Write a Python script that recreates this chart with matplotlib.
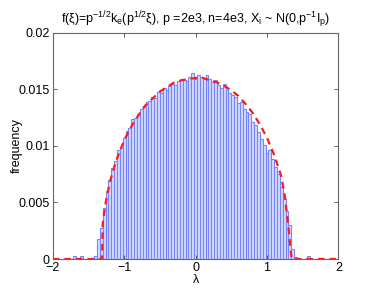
import matplotlib
matplotlib.use("Agg")
import matplotlib.pyplot as plt

plt.rcParams['font.family'] = ['Liberation Sans', 'DejaVu Sans']
plt.rcParams['mathtext.default'] = 'regular'

# histogram bars (bin centers, width 0.04)
bin_centers = [-1.69, -1.60,
               -1.40, -1.36, -1.32, -1.28, -1.24, -1.20, -1.16, -1.12, -1.08, -1.04,
               -1.00, -0.96, -0.92, -0.88, -0.84, -0.80, -0.76, -0.72, -0.68, -0.64,
               -0.60, -0.56, -0.52, -0.48, -0.44, -0.40, -0.36, -0.32, -0.28, -0.24,
               -0.20, -0.16, -0.12, -0.08, -0.04, 0.00, 0.04, 0.08, 0.12, 0.16,
               0.20, 0.24, 0.28, 0.32, 0.36, 0.40, 0.44, 0.48, 0.52, 0.56,
               0.60, 0.64, 0.68, 0.72, 0.76, 0.80, 0.84, 0.88, 0.92, 0.96,
               1.00, 1.04, 1.08, 1.12, 1.16, 1.20, 1.24, 1.28, 1.32, 1.36, 1.40,
               1.58]
frequency = [0.0003, 0.0003,
             0.0003, 0.0018, 0.0027, 0.0045, 0.0060, 0.0070, 0.0080, 0.0087, 0.0096, 0.0098,
             0.0107, 0.0113, 0.0116, 0.0124, 0.0125, 0.0128, 0.0133, 0.0135, 0.0139, 0.0140,
             0.0143, 0.0142, 0.0148, 0.0147, 0.0151, 0.0149, 0.0153, 0.0155, 0.0154, 0.0157,
             0.0158, 0.0158, 0.0157, 0.0161, 0.0164, 0.0159, 0.0163, 0.0161, 0.0160, 0.0163,
             0.0159, 0.0156, 0.0158, 0.0154, 0.0151, 0.0155, 0.0149, 0.0147, 0.0145, 0.0143,
             0.0138, 0.0139, 0.0133, 0.0130, 0.0128, 0.0121, 0.0118, 0.0112, 0.0106, 0.0101,
             0.0094, 0.0096, 0.0088, 0.0081, 0.0075, 0.0064, 0.0053, 0.0042, 0.0030, 0.0009, 0.0002,
             0.0003]
bin_width = 0.04

# theoretical curve (red dashed)
curve_x = [-2.0, -1.31, -1.30, -1.28, -1.25, -1.20, -1.15, -1.10, -1.00, -0.90, -0.80,
           -0.70, -0.60, -0.50, -0.40, -0.30, -0.20, -0.10, 0.00, 0.10, 0.20, 0.30,
           0.40, 0.50, 0.60, 0.70, 0.80, 0.90, 1.00, 1.10, 1.20, 1.25, 1.30, 1.33,
           1.345, 2.0]
curve_y = [0.0, 0.0, 0.0031, 0.0041, 0.0053, 0.0068, 0.0079, 0.0089, 0.0105, 0.0117, 0.0127,
           0.0136, 0.0142, 0.0148, 0.0152, 0.0156, 0.0158, 0.0159, 0.0160, 0.0160, 0.0158, 0.0156,
           0.0153, 0.0149, 0.0144, 0.0137, 0.0129, 0.0119, 0.0107, 0.0092, 0.0073, 0.0055, 0.0028, 0.0008,
           0.0, 0.0]

x_ticks = [-2, -1, 0, 1, 2]
x_tick_labels = ['\u22122', '\u22121', '0', '1', '2']
y_ticks = [0, 0.005, 0.01, 0.015, 0.02]
y_tick_labels = ['0', '0.005', '0.01', '0.015', '0.02']

fig = plt.figure(figsize=(3.74, 2.92), dpi=100)
ax = fig.add_axes([0.141, 0.113, 0.764, 0.775])

ax.bar(bin_centers, frequency, width=bin_width, color='#d6dcff',
       edgecolor='#7585ff', linewidth=0.8, align='center')
ax.plot(curve_x, curve_y, color='#ff1a1a', linestyle=(0, (3, 2.2)), linewidth=1.6)

ax.set_xlim(-2, 2)
ax.set_ylim(0, 0.02)
ax.set_xticks(x_ticks)
ax.set_xticklabels(x_tick_labels)
ax.set_yticks(y_ticks)
ax.set_yticklabels(y_tick_labels)
ax.tick_params(direction='in', top=True, right=True, length=3, width=0.6,
               labelsize=9, colors='#444444', labelcolor='black', pad=2)
for s in ax.spines.values():
    s.set_color('#666666')
    s.set_linewidth(0.8)

ax.set_xlabel('\u03bb', fontsize=9)
ax.xaxis.set_label_coords(0.5, -0.068)
ax.set_ylabel('frequency', fontsize=9)
ax.yaxis.set_label_coords(-0.105, 0.5)
ax.set_title(r'f(ξ)=p$^{-1/2}$k$_e$(p$^{1/2}$ξ), p =2e3, n=4e3, X$_i$ ~ N(0,p$^{-1}$I$_p$)',
             fontsize=9, pad=7)

fig.savefig('out.png', dpi=100)
